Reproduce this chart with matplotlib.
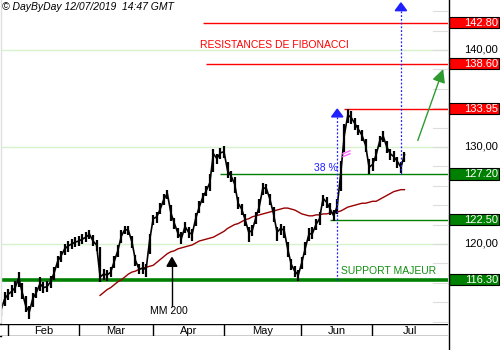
import numpy as np
import pandas as pd
import matplotlib
matplotlib.use("Agg")
import matplotlib.pyplot as plt
from matplotlib.patches import Rectangle, Polygon
from matplotlib.transforms import blended_transform_factory

plt.rcParams['font.family'] = ['Liberation Sans', 'DejaVu Sans']

# trading days (Euronext closed on Good Friday, Easter Monday and May 1st)
holidays = pd.to_datetime(["2019-04-19", "2019-04-22", "2019-05-01"])
dates = pd.bdate_range("2019-01-30", "2019-07-12")
dates = dates[~dates.isin(holidays)]

closes = [
    113.2, 114.3, 114.8, 115.1, 115.5, 116.5, 115.0, 113.6, 113.0, 114.4,
    115.0, 115.9, 115.5, 115.6, 116.1, 117.0, 118.2, 118.8, 119.5, 119.8,
    120.0, 120.2, 120.3, 120.5, 120.7, 121.0, 120.3, 119.9, 116.6, 116.9,
    116.8, 117.1, 118.2, 119.3, 120.8, 121.5, 121.4, 120.2, 118.3, 117.4,
    117.5, 117.4, 120.4, 122.6, 122.8, 123.6, 124.6, 125.2, 123.2, 122.1,
    121.1, 120.6, 121.8, 121.2, 121.0, 122.6, 123.8, 124.8, 125.5, 126.3,
    129.3, 128.8, 129.4, 129.5, 127.6, 127.0, 126.2, 124.2, 123.6, 122.5,
    121.2, 121.4, 122.7, 123.9, 125.8, 125.7, 124.6, 123.1, 121.2, 121.6,
    121.4, 119.5, 117.9, 117.2, 116.8, 118.1, 119.6, 121.0, 121.1, 122.0,
    122.6, 124.7, 124.3, 123.6, 122.9, 123.9, 127.3, 131.2, 133.3, 133.0,
    132.4, 131.8, 131.2, 130.2, 127.9, 128.2, 129.2, 130.6, 131.1, 130.0,
    129.3, 129.0, 128.5, 127.9, 129.2,
]
lows = [
    112.6, 113.6, 114.2, 114.5, 114.9, 115.6, 114.3, 113.0, 112.3, 113.5,
    114.4, 115.2, 114.9, 115.0, 115.5, 116.3, 117.5, 118.1, 118.9, 119.2,
    119.5, 119.7, 119.8, 120.0, 120.2, 120.5, 119.8, 119.3, 116.1, 116.3,
    116.2, 116.6, 117.5, 118.7, 120.1, 121.0, 120.9, 119.6, 117.7, 116.9,
    116.9, 116.6, 119.0, 122.0, 122.2, 123.1, 124.0, 124.6, 122.4, 121.5,
    120.6, 120.0, 121.1, 120.6, 120.3, 121.9, 123.2, 124.2, 124.9, 125.5,
    127.4, 128.2, 128.8, 128.9, 126.8, 126.4, 125.3, 123.6, 123.0, 121.9,
    120.2, 120.8, 122.1, 123.2, 125.0, 125.1, 124.0, 122.3, 120.3, 120.9,
    120.6, 118.7, 117.3, 116.6, 116.2, 117.4, 118.9, 120.3, 120.5, 121.4,
    122.0, 123.9, 123.7, 123.0, 122.4, 123.1, 125.5, 129.5, 132.5, 132.4,
    131.8, 131.2, 130.6, 129.5, 127.2, 127.5, 128.6, 130.0, 130.5, 129.4,
    128.7, 128.4, 127.8, 127.3, 128.5,
]
highs = [
    114.0, 115.0, 115.4, 115.8, 116.2, 117.1, 116.0, 114.6, 113.6, 114.9,
    115.6, 116.6, 116.1, 116.2, 116.7, 117.6, 118.8, 119.3, 120.0, 120.3,
    120.5, 120.7, 120.8, 121.0, 121.2, 121.4, 120.9, 120.4, 119.7, 117.4,
    117.3, 117.6, 118.8, 119.9, 121.4, 121.9, 121.9, 120.8, 118.9, 117.9,
    118.1, 117.9, 121.0, 123.0, 123.3, 124.2, 125.1, 125.6, 124.0, 122.7,
    121.6, 121.2, 122.3, 121.7, 121.5, 123.2, 124.4, 125.3, 126.0, 127.2,
    129.8, 129.3, 129.9, 130.1, 128.4, 127.5, 126.9, 124.8, 124.1, 123.1,
    121.7, 122.0, 123.3, 124.6, 126.3, 126.2, 125.2, 123.8, 121.8, 122.1,
    121.9, 120.2, 118.5, 117.7, 117.3, 118.7, 120.2, 121.6, 121.7, 122.6,
    123.3, 125.0, 124.8, 124.2, 123.5, 124.6, 128.6, 132.4, 133.95, 133.7,
    133.0, 132.3, 131.7, 130.8, 128.8, 128.9, 129.8, 131.1, 131.6, 130.6,
    129.8, 129.6, 129.0, 128.4, 129.5,
]
# 200-day moving average, shown from early March
ma200_start = "2019-03-11"
ma200 = [
    114.7, 115.0, 115.3, 115.5, 115.8, 116.1, 116.3, 116.6, 116.9, 117.1,
    117.2, 117.4, 117.5, 117.6, 117.7, 117.8, 118.1, 118.4, 118.7, 119.0,
    119.2, 119.3, 119.5, 119.6, 119.7, 119.8, 119.9, 120.1, 120.3, 120.4,
    120.5, 120.6, 120.7, 120.9, 121.1, 121.3, 121.6, 121.8, 122.0, 122.1,
    122.3, 122.5, 122.6, 122.8, 122.9, 123.0, 123.1, 123.2, 123.3, 123.4,
    123.5, 123.6, 123.7, 123.7, 123.6, 123.5, 123.3, 123.1, 123.0, 122.9,
    122.9, 123.0, 123.0, 123.1, 123.1, 123.2, 123.2, 123.3, 123.4, 123.6,
    123.8, 123.9, 124.0, 124.1, 124.2, 124.2, 124.3, 124.4, 124.4, 124.6,
    124.8, 125.0, 125.2, 125.4, 125.5, 125.6, 125.6,
]

resistances = [142.80, 138.60, 133.95]
supports = [127.20, 122.50, 116.30]
grid_levels = [120, 130, 140]
fib_low, fib_high = 122.50, 133.95
target = 138.60

RED = "#ff0000"
GREEN = "#008000"
BLUE = "#2020ff"

x = np.arange(len(dates))


def idx(day):
    return int(dates.get_indexer([pd.Timestamp(day)])[0])


fig = plt.figure(figsize=(5, 3.5), dpi=100)
W, H = 500, 350
XMAX = 126.3
ax = fig.add_axes([1 / W, 26 / H, 447 / W, 324 / H])
ax.set_xlim(0, XMAX)
ax.set_ylim(111.75, 145.15)
ax.axis("off")

# light grid
for g in grid_levels:
    ax.axhline(g, color="#d6f3cc", lw=1, zorder=0)

# resistances / supports
res_from = ["2019-04-23", "2019-04-24", "2019-06-19"]
sup_from = ["2019-04-30", "2019-06-13", None]
for lvl, d in zip(resistances, res_from):
    ax.hlines(lvl, idx(d), XMAX, color=RED, lw=1, zorder=2)
for lvl, d in zip(supports, sup_from):
    if d is None:
        ax.axhline(lvl, color=GREEN, lw=2.6, zorder=2)
    else:
        ax.hlines(lvl, idx(d), XMAX, color=GREEN, lw=1, zorder=2)

# price bars + close line
ax.vlines(x, lows, highs, color="black", lw=1.6, zorder=4)
ax.plot(x, closes, color="black", lw=1.2, zorder=4)

# moving average
ma_x = x[idx(ma200_start):]
ax.plot(ma_x, ma200, color="#990000", lw=1, zorder=3)

# fibonacci markers
i_low = idx("2019-06-17")
i_now = idx("2019-07-11")
ax.vlines(i_low, supports[2], fib_high - 0.25, color=BLUE, lw=0.9,
          linestyles=(0, (1.5, 1.5)), zorder=5)
ax.vlines(i_now, supports[0], 144.0, color=BLUE, lw=0.9,
          linestyles=(0, (1.5, 1.5)), zorder=5)
for xi, top in [(i_low, 133.9), (i_now, 144.85)]:
    ax.add_patch(Polygon([[xi - 1.6, top - 0.8], [xi + 1.6, top - 0.8], [xi, top]],
                         closed=True, color=BLUE, zorder=6))
ax.text(88.4, 127.85, "38 %", color=BLUE, fontsize=7.5, va="center", ha="left")
ax.plot([96.6, 98.6], [129.3, 129.6], color="#ff66ff", lw=1, zorder=6)
ax.plot([96.6, 98.6], [129.0, 129.3], color="#ff66ff", lw=1, zorder=6)

ax.text(56.2, 140.5, "RESISTANCES DE FIBONACCI", color=RED, fontsize=7.5,
        va="center", ha="left")
ax.text(96.1, 117.25, "SUPPORT MAJEUR", color="#109010", fontsize=7.5,
        va="center", ha="left")

# MM 200 pointer
ax.text(42.1, 113.1, "MM 200", color="black", fontsize=7.5, va="center", ha="left")
ax.plot([48.3, 48.3], [113.6, 117.7], color="black", lw=1, zorder=6)
ax.add_patch(Polygon([[46.9, 117.7], [49.7, 117.7], [48.3, 118.6]], closed=True,
                     color="black", zorder=6))

# target arrow
ax.annotate("", xy=(125.2, target - 0.3), xytext=(117.5, 130.4),
            arrowprops=dict(arrowstyle="-|>,head_length=0.8,head_width=0.4",
                            color="#2f9a2f", lw=1), annotation_clip=False)

# right-hand price scale
trans = blended_transform_factory(fig.transFigure, ax.transData)
for lvl in grid_levels:
    fig.text(498 / W, lvl, f"{lvl:.2f}".replace(".", ","), transform=trans,
             ha="right", va="center", fontsize=8, color="black")
for lvl in np.arange(112, 146, 2):
    ax.plot([122.2, XMAX], [lvl, lvl], color="#dddddd", lw=0.8, zorder=1)
for lvl, col in [(v, RED) for v in resistances] + [(v, GREEN) for v in supports]:
    fig.add_artist(Rectangle((449 / W, lvl - 0.58), 50 / W, 1.16, transform=trans,
                             facecolor=col, edgecolor="black", lw=0.8))
    fig.text(498 / W, lvl, f"{lvl:.2f}", transform=trans, ha="right",
             va="center", fontsize=8, color="white")

# frame lines
fig.add_artist(plt.Line2D([448.5 / W, 448.5 / W], [0, 1], color="black", lw=1))
fig.add_artist(plt.Line2D([0.5 / W, 0.5 / W], [26 / H, 1], color="#e0e0e0", lw=1))

# month band
band = fig.add_axes([1 / W, 14 / H, 447 / W, 12 / H])
band.set_xlim(0, XMAX)
band.set_ylim(0, 1)
band.axis("off")
band.axhline(1, color="black", lw=1)
band.axhline(0, color="black", lw=1)
fig.add_artist(plt.Line2D([0, 1 / W], [26 / H, 26 / H], color="black", lw=1))
fig.add_artist(plt.Line2D([0, 1 / W], [14 / H, 14 / H], color="black", lw=1))
month_starts = [i for i in range(1, len(dates)) if dates[i].month != dates[i - 1].month]
edges = month_starts + [XMAX]
for s, e in zip(month_starts, edges[1:]):
    band.vlines(s - 0.1, 0, 1, color="black", lw=1)
    band.text((s + e) / 2, 0.45, dates[s].strftime("%b"), ha="center",
              va="center", fontsize=8)

fig.text(2 / W, 1 - 7 / H, "© DayByDay 12/07/2019  14:47 GMT", fontsize=7.5,
         style="italic", ha="left", va="center")

fig.savefig("out.png", dpi=100)
